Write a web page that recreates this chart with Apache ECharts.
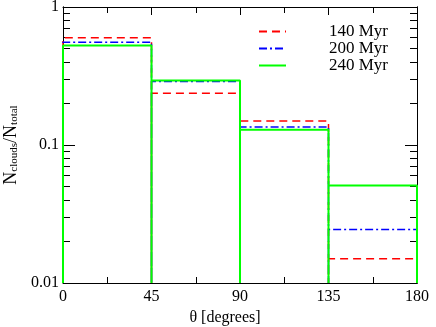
<!DOCTYPE html>
<html>
<head>
<meta charset="utf-8">
<script src="https://cdn.jsdelivr.net/npm/echarts@6/dist/echarts.min.js"></script>
<style>
  html, body { margin: 0; padding: 0; background: #fff; }
  #chart { width: 436px; height: 327px; }
</style>
</head>
<body>
<div id="chart"></div>
<script>
// bin edges in degrees
const binEdges = [0, 45, 90, 135, 180]
const seriesNames = ['140 Myr', '200 Myr', '240 Myr']
// N_clouds / N_total per bin
const val140 = [0.598, 0.237, 0.149, 0.015]
const val200 = [0.556, 0.288, 0.135, 0.0244]
const val240 = [0.526, 0.293, 0.129, 0.0509]
const yMajorTicks = [0.01, 0.1, 1]
const yMinorTicks = [0.02, 0.03, 0.04, 0.05, 0.06, 0.07, 0.08, 0.09,
  0.2, 0.3, 0.4, 0.5, 0.6, 0.7, 0.8, 0.9]
const yFloor = 0.01

// histogram outline: each bin is a box from the floor up to its value
function outline(vals) {
  const pts = []
  vals.forEach((v, i) => {
    pts.push([binEdges[i], yFloor], [binEdges[i], v], [binEdges[i + 1], v], [binEdges[i + 1], yFloor])
  })
  return pts
}

const serif = 'Liberation Serif'
const chart = echarts.init(document.getElementById('chart'))

const baseY = {
  type: 'log',
  min: 0.01,
  max: 1,
  logBase: 10,
  splitLine: { show: false },
  axisLine: { show: true, onZero: false, lineStyle: { color: '#000', width: 1 } }
}

const option = {
  animation: false,
  backgroundColor: '#fff',
  grid: { left: 63, right: 19, top: 7, bottom: 44, containLabel: false, outerBoundsMode: 'none' },
  legend: {
    orient: 'vertical',
    left: 258,
    top: 23,
    itemWidth: 27,
    itemHeight: 16,
    itemGap: 0,
    padding: 0,
    itemStyle: { opacity: 0, borderWidth: 0 },
    textStyle: { fontFamily: serif, fontSize: 17, lineHeight: 16, color: '#000', padding: [0, 0, 0, 38] },
    data: seriesNames
  },
  xAxis: [
    {
      type: 'value',
      min: 0,
      max: 180,
      interval: 45,
      name: 'θ [degrees]',
      nameLocation: 'middle',
      nameGap: 26,
      nameTextStyle: { fontFamily: serif, fontSize: 16, color: '#000', padding: [0, 30, 0, 0] },
      axisLine: { onZero: false, lineStyle: { color: '#000', width: 1 } },
      axisTick: { inside: true, length: 8, lineStyle: { color: '#000' } },
      minorTick: { show: true, splitNumber: 2, length: 6, lineStyle: { color: '#000' } },
      axisLabel: { margin: 6, fontFamily: serif, fontSize: 16, color: '#000' },
      splitLine: { show: false }
    },
    {
      type: 'value',
      position: 'top',
      min: 0,
      max: 180,
      interval: 45,
      axisLine: { onZero: false, lineStyle: { color: '#000', width: 1 } },
      axisTick: { inside: true, length: 8, lineStyle: { color: '#000' } },
      minorTick: { show: true, splitNumber: 2, length: 6, lineStyle: { color: '#000' } },
      axisLabel: { show: false },
      splitLine: { show: false }
    }
  ],
  yAxis: [
    Object.assign({}, baseY, {
      position: 'left',
      name: '{n|N}{s|clouds}{n|/N}{s|total}',
      nameLocation: 'middle',
      nameRotate: 90,
      nameGap: 41,
      nameTextStyle: {
        fontFamily: serif,
        color: '#000',
        rich: {
          n: { fontFamily: serif, fontSize: 18, lineHeight: 18, verticalAlign: 'top', color: '#000' },
          s: { fontFamily: serif, fontSize: 11, lineHeight: 11, verticalAlign: 'bottom', padding: [13, 0, 0, 0], color: '#000' }
        }
      },
      axisTick: { inside: true, length: 12, customValues: yMajorTicks, lineStyle: { color: '#000' } },
      axisLabel: { margin: 4, fontFamily: serif, fontSize: 16, color: '#000', customValues: yMajorTicks,
        formatter: v => String(+v.toPrecision(3)) }
    }),
    Object.assign({}, baseY, {
      position: 'left',
      axisTick: { inside: true, length: 7, customValues: yMinorTicks, lineStyle: { color: '#000' } },
      axisLabel: { show: false }
    }),
    Object.assign({}, baseY, {
      position: 'right',
      axisTick: { inside: true, length: 12, customValues: yMajorTicks, lineStyle: { color: '#000' } },
      axisLabel: { show: false }
    }),
    Object.assign({}, baseY, {
      position: 'right',
      axisTick: { inside: true, length: 7, customValues: yMinorTicks, lineStyle: { color: '#000' } },
      axisLabel: { show: false }
    })
  ],
  series: [
    {
      name: seriesNames[0],
      type: 'line',
      data: outline(val140),
      showSymbol: false,
      symbol: 'none',
      itemStyle: { color: '#ff0000' },
      lineStyle: { color: '#ff0000', width: 1.5, type: [8, 5] },
      z: 2
    },
    {
      name: seriesNames[1],
      type: 'line',
      data: outline(val200),
      showSymbol: false,
      symbol: 'none',
      itemStyle: { color: '#0000ff' },
      lineStyle: { color: '#0000ff', width: 1.5, type: [8, 3, 2, 3] },
      z: 3
    },
    {
      name: seriesNames[2],
      type: 'line',
      data: outline(val240),
      showSymbol: false,
      symbol: 'none',
      itemStyle: { color: '#00ff00' },
      lineStyle: { color: '#00ff00', width: 2 },
      z: 4
    }
  ]
}

chart.setOption(option)
</script>
</body>
</html>
